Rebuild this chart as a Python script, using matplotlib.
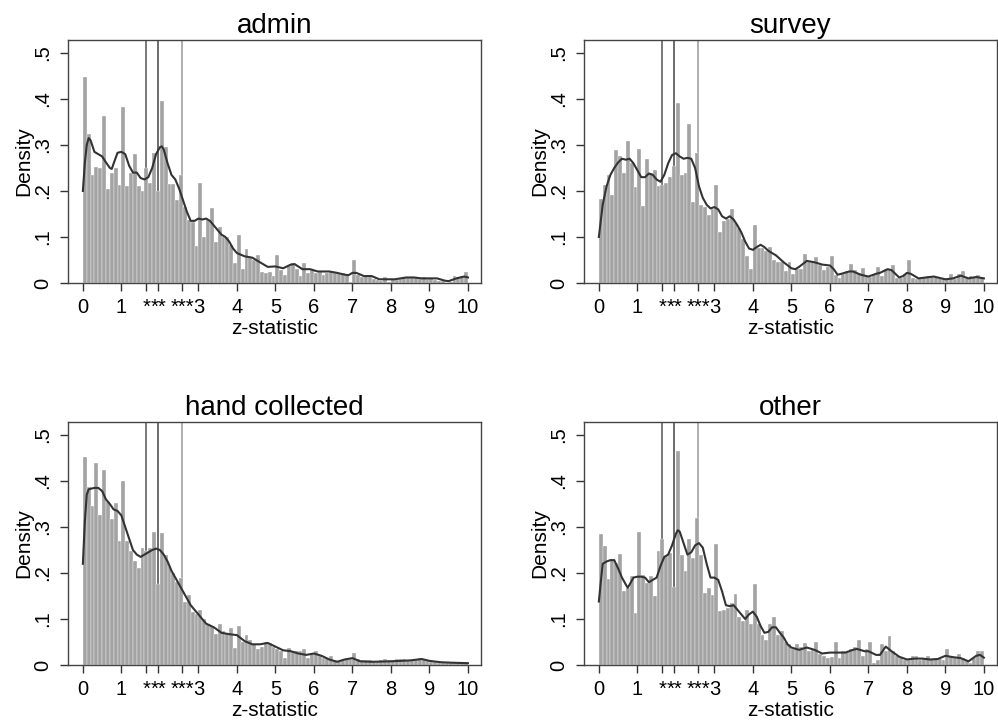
import numpy as np
import matplotlib
matplotlib.use('Agg')
import matplotlib.pyplot as plt

plt.rcParams['font.family'] = ['Liberation Sans', 'DejaVu Sans']

# histogram bins: width 0.1 from 0 to 10
bin_edges = np.round(np.arange(0, 10.01, 0.1), 2)

admin_hist = [
    0.447, 0.323, 0.235, 0.253, 0.25, 0.362, 0.204, 0.238, 0.25, 0.212,
    0.382, 0.21, 0.24, 0.28, 0.21, 0.20, 0.25, 0.217, 0.283, 0.20,
    0.396, 0.296, 0.215, 0.215, 0.18, 0.235, 0.165, 0.137, 0.133, 0.08,
    0.217, 0.10, 0.137, 0.162, 0.088, 0.122, 0.10, 0.10, 0.083, 0.044,
    0.105, 0.03, 0.074, 0.054, 0.05, 0.06, 0.023, 0.021, 0.024, 0.015,
    0.06, 0.028, 0.017, 0.036, 0.043, 0.03, 0.015, 0.044, 0.021, 0.028,
    0.021, 0.023, 0.018, 0.021, 0.024, 0.022, 0.02, 0.021, 0.017, 0.002,
    0.05, 0.017, 0.012, 0.015, 0.014, 0.008, 0.006, 0.005, 0.014, 0.003,
    0.008, 0.007, 0.009, 0.011, 0.011, 0.012, 0.012, 0.009, 0.012, 0.008,
    0.011, 0.007, 0.005, 0.005, 0.001, 0.003, 0.015, 0.012, 0.015, 0.024,
]
survey_hist = [
    0.183, 0.214, 0.234, 0.192, 0.288, 0.277, 0.24, 0.308, 0.26, 0.209,
    0.292, 0.167, 0.27, 0.24, 0.245, 0.21, 0.213, 0.218, 0.23, 0.255,
    0.392, 0.234, 0.24, 0.345, 0.177, 0.283, 0.169, 0.165, 0.148, 0.16,
    0.213, 0.11, 0.135, 0.14, 0.16, 0.13, 0.12, 0.095, 0.058, 0.03,
    0.125, 0.075, 0.075, 0.07, 0.078, 0.05, 0.045, 0.045, 0.025, 0.045,
    0.02, 0.03, 0.03, 0.064, 0.045, 0.045, 0.057, 0.04, 0.028, 0.035,
    0.058, 0.018, 0.01, 0.02, 0.025, 0.042, 0.028, 0.022, 0.032, 0.015,
    0.012, 0.02, 0.035, 0.015, 0.03, 0.03, 0.04, 0.01, 0.01, 0.02,
    0.05, 0.01, 0.008, 0.01, 0.012, 0.015, 0.012, 0.012, 0.01, 0.01,
    0.008, 0.02, 0.008, 0.02, 0.025, 0.01, 0.015, 0.012, 0.018, 0.012,
]
hand_hist = [
    0.453, 0.387, 0.345, 0.438, 0.327, 0.424, 0.355, 0.318, 0.353, 0.27,
    0.40, 0.27, 0.248, 0.226, 0.211, 0.255, 0.248, 0.255, 0.29, 0.175,
    0.288, 0.24, 0.215, 0.20, 0.18, 0.19, 0.138, 0.153, 0.115, 0.11,
    0.12, 0.10, 0.09, 0.085, 0.068, 0.09, 0.075, 0.07, 0.08, 0.036,
    0.084, 0.05, 0.065, 0.055, 0.045, 0.035, 0.04, 0.05, 0.048, 0.04,
    0.035, 0.03, 0.015, 0.037, 0.03, 0.03, 0.03, 0.035, 0.015, 0.025,
    0.03, 0.02, 0.015, 0.015, 0.02, 0.01, 0.008, 0.01, 0.015, 0.012,
    0.027, 0.012, 0.01, 0.01, 0.01, 0.008, 0.008, 0.01, 0.012, 0.01,
    0.01, 0.014, 0.012, 0.012, 0.01, 0.01, 0.012, 0.015, 0.012, 0.008,
    0.006, 0.006, 0.005, 0.005, 0.004, 0.005, 0.005, 0.004, 0.005, 0.005,
]
other_hist = [
    0.284, 0.258, 0.186, 0.229, 0.222, 0.242, 0.16, 0.167, 0.193, 0.113,
    0.289, 0.195, 0.178, 0.193, 0.15, 0.247, 0.273, 0.236, 0.244, 0.17,
    0.466, 0.24, 0.204, 0.273, 0.233, 0.32, 0.24, 0.156, 0.167, 0.153,
    0.264, 0.117, 0.12, 0.125, 0.135, 0.155, 0.105, 0.095, 0.12, 0.09,
    0.175, 0.09, 0.065, 0.055, 0.09, 0.105, 0.065, 0.075, 0.05, 0.045,
    0.035, 0.045, 0.04, 0.048, 0.03, 0.035, 0.05, 0.025, 0.02, 0.015,
    0.018, 0.05, 0.015, 0.03, 0.028, 0.035, 0.04, 0.055, 0.02, 0.035,
    0.05, 0.005, 0.01, 0.045, 0.03, 0.062, 0.03, 0.02, 0.015, 0.01,
    0.01, 0.02, 0.02, 0.01, 0.015, 0.02, 0.012, 0.015, 0.012, 0.01,
    0.035, 0.02, 0.015, 0.025, 0.015, 0.01, 0.005, 0.015, 0.03, 0.03,
]

# kernel density curves
admin_kx = [0, 0.05, 0.1, 0.15, 0.2, 0.3, 0.4, 0.5, 0.6, 0.7, 0.75, 0.8, 0.9, 1.0, 1.1,
            1.2, 1.3, 1.4, 1.5, 1.6, 1.7, 1.8, 1.9, 2.0, 2.05, 2.1, 2.2, 2.3, 2.4, 2.5,
            2.6, 2.7, 2.8, 2.9, 3.0, 3.1, 3.2, 3.3, 3.4, 3.5, 3.6, 3.7, 3.8, 3.9, 4.0,
            4.2, 4.4, 4.6, 4.8, 5.0, 5.2, 5.4, 5.5, 5.7, 5.9, 6.1, 6.4, 6.6, 6.8, 6.9,
            7.0, 7.1, 7.3, 7.5, 7.7, 7.9, 8.1, 8.4, 8.6, 8.8, 9.0, 9.2, 9.4, 9.5, 9.7,
            9.9, 10.0]
admin_ky = [0.20, 0.26, 0.30, 0.315, 0.31, 0.285, 0.28, 0.275, 0.262, 0.25, 0.248, 0.26,
            0.283, 0.285, 0.28, 0.255, 0.24, 0.24, 0.228, 0.225, 0.23, 0.25, 0.28, 0.295,
            0.297, 0.29, 0.26, 0.235, 0.225, 0.205, 0.18, 0.155, 0.135, 0.135, 0.14,
            0.138, 0.14, 0.135, 0.125, 0.115, 0.105, 0.10, 0.09, 0.075, 0.065, 0.058,
            0.055, 0.045, 0.035, 0.036, 0.032, 0.04, 0.041, 0.03, 0.03, 0.025, 0.025,
            0.022, 0.018, 0.017, 0.022, 0.022, 0.015, 0.015, 0.008, 0.008, 0.008, 0.012,
            0.012, 0.01, 0.01, 0.01, 0.005, 0.004, 0.01, 0.014, 0.012]

survey_kx = [0, 0.1, 0.2, 0.3, 0.4, 0.5, 0.6, 0.7, 0.8, 0.9, 1.0, 1.1, 1.2, 1.3, 1.4,
             1.5, 1.6, 1.7, 1.8, 1.9, 2.0, 2.1, 2.2, 2.3, 2.4, 2.5, 2.6, 2.7, 2.8, 2.9,
             3.0, 3.1, 3.2, 3.3, 3.4, 3.5, 3.6, 3.7, 3.8, 3.9, 4.0, 4.1, 4.2, 4.3, 4.4,
             4.6, 4.8, 5.0, 5.1, 5.2, 5.4, 5.6, 5.8, 6.0, 6.1, 6.2, 6.3, 6.5, 6.6, 6.8,
             7.0, 7.2, 7.3, 7.5, 7.6, 7.8, 7.9, 8.0, 8.1, 8.3, 8.5, 8.7, 9.0, 9.2, 9.4,
             9.6, 9.8, 10.0]
survey_ky = [0.10, 0.17, 0.21, 0.235, 0.25, 0.262, 0.27, 0.268, 0.27, 0.26, 0.245, 0.23,
             0.23, 0.238, 0.235, 0.225, 0.22, 0.235, 0.26, 0.278, 0.282, 0.275, 0.27,
             0.272, 0.27, 0.25, 0.21, 0.185, 0.17, 0.162, 0.165, 0.16, 0.145, 0.14,
             0.145, 0.138, 0.125, 0.11, 0.09, 0.075, 0.072, 0.078, 0.083, 0.078, 0.07,
             0.06, 0.045, 0.032, 0.03, 0.035, 0.048, 0.045, 0.04, 0.038, 0.03, 0.018,
             0.02, 0.025, 0.025, 0.018, 0.014, 0.02, 0.022, 0.03, 0.028, 0.012, 0.015,
             0.022, 0.02, 0.01, 0.012, 0.014, 0.008, 0.01, 0.016, 0.01, 0.013, 0.01]

hand_kx = [0, 0.05, 0.1, 0.15, 0.2, 0.3, 0.4, 0.5, 0.6, 0.7, 0.8, 0.9, 1.0, 1.1, 1.2,
           1.3, 1.4, 1.5, 1.6, 1.7, 1.8, 1.9, 2.0, 2.1, 2.2, 2.3, 2.4, 2.5, 2.6, 2.7,
           2.8, 2.9, 3.0, 3.2, 3.4, 3.6, 3.8, 4.0, 4.2, 4.4, 4.6, 4.8, 5.0, 5.2, 5.4,
           5.6, 5.8, 6.0, 6.2, 6.4, 6.6, 6.8, 7.0, 7.2, 7.5, 8.0, 8.5, 8.8, 9.0, 9.3,
           9.6, 10.0]
hand_ky = [0.22, 0.31, 0.37, 0.382, 0.383, 0.385, 0.385, 0.378, 0.36, 0.35, 0.338,
           0.335, 0.325, 0.30, 0.275, 0.25, 0.24, 0.235, 0.24, 0.245, 0.25, 0.253, 0.25,
           0.24, 0.225, 0.205, 0.19, 0.175, 0.16, 0.145, 0.13, 0.12, 0.11, 0.09, 0.082,
           0.07, 0.067, 0.065, 0.052, 0.045, 0.045, 0.048, 0.04, 0.032, 0.03, 0.025,
           0.022, 0.025, 0.02, 0.012, 0.007, 0.012, 0.015, 0.008, 0.007, 0.008, 0.01,
           0.013, 0.009, 0.006, 0.005, 0.004]

other_kx = [0, 0.05, 0.1, 0.2, 0.3, 0.4, 0.5, 0.6, 0.7, 0.75, 0.8, 0.9, 1.0, 1.1, 1.2,
            1.3, 1.4, 1.5, 1.6, 1.7, 1.8, 1.9, 2.0, 2.05, 2.1, 2.2, 2.3, 2.4, 2.5, 2.6,
            2.7, 2.8, 2.9, 3.0, 3.1, 3.2, 3.3, 3.4, 3.5, 3.6, 3.7, 3.8, 3.9, 4.0, 4.1,
            4.2, 4.3, 4.4, 4.5, 4.6, 4.7, 4.8, 4.9, 5.0, 5.2, 5.4, 5.6, 5.8, 6.0, 6.2,
            6.4, 6.6, 6.7, 6.9, 7.0, 7.2, 7.3, 7.45, 7.6, 7.8, 8.0, 8.2, 8.4, 8.6, 8.8,
            9.0, 9.2, 9.4, 9.6, 9.8, 9.9, 10.0]
other_ky = [0.138, 0.18, 0.22, 0.225, 0.228, 0.228, 0.21, 0.19, 0.175, 0.168, 0.175,
            0.19, 0.192, 0.192, 0.19, 0.18, 0.185, 0.19, 0.215, 0.235, 0.24, 0.26, 0.285,
            0.293, 0.29, 0.265, 0.24, 0.245, 0.26, 0.265, 0.255, 0.22, 0.19, 0.19, 0.185,
            0.16, 0.13, 0.128, 0.13, 0.12, 0.11, 0.10, 0.11, 0.116, 0.105, 0.085, 0.07,
            0.072, 0.082, 0.082, 0.07, 0.06, 0.045, 0.038, 0.033, 0.038, 0.033, 0.025,
            0.027, 0.027, 0.027, 0.033, 0.035, 0.03, 0.03, 0.022, 0.022, 0.04, 0.03,
            0.018, 0.012, 0.014, 0.014, 0.012, 0.013, 0.02, 0.017, 0.015, 0.008, 0.02,
            0.022, 0.016]

titles = ['admin', 'survey', 'hand collected', 'other']
hists = [admin_hist, survey_hist, hand_hist, other_hist]
kde_x = [admin_kx, survey_kx, hand_kx, other_kx]
kde_y = [admin_ky, survey_ky, hand_ky, other_ky]

# significance thresholds
sig_x = [1.645, 1.96, 2.576]
sig_colors = ['#555555', '#444444', '#999999']

xticks = [0, 1, 1.645, 1.96, 2.576, 3, 4, 5, 6, 7, 8, 9, 10]
xticklabels = ['0', '1', '*', '**', '***', '3', '4', '5', '6', '7', '8', '9', '10']
yticks = [0, 0.1, 0.2, 0.3, 0.4, 0.5]
yticklabels = ['0', '.1', '.2', '.3', '.4', '.5']

fig = plt.figure(figsize=(9.98, 7.23), dpi=100)
positions = [
    [0.068, 0.6086, 0.414, 0.336],
    [0.585, 0.6086, 0.414, 0.336],
    [0.068, 0.0802, 0.414, 0.336],
    [0.585, 0.0802, 0.414, 0.336],
]

for i in range(4):
    ax = fig.add_axes(positions[i])
    for xv, c in zip(sig_x, sig_colors):
        ax.axvline(xv, color=c, lw=1.1, zorder=1)
    ax.bar(bin_edges[:-1], hists[i], width=0.1, align='edge', color='#a3a3a3',
           edgecolor='white', linewidth=0.25, zorder=2)
    ax.plot(kde_x[i], kde_y[i], color='#333333', lw=1.5, zorder=3)
    ax.set_xlim(-0.39, 10.34)
    ax.set_ylim(0, 0.528)
    ax.set_xticks(xticks)
    ax.set_xticklabels(xticklabels, fontsize=14.5)
    ax.set_yticks(yticks)
    ax.set_yticklabels(yticklabels, fontsize=14.5, rotation=90, va='center')
    ax.tick_params(axis='both', direction='out', length=6, width=1, color='#333333')
    ax.tick_params(axis='x', pad=5)
    ax.tick_params(axis='y', pad=5)
    for sp in ax.spines.values():
        sp.set_color('#444444')
        sp.set_linewidth(1.0)
    ax.set_xlabel('z-statistic', fontsize=15, labelpad=1)
    ax.set_ylabel('Density', fontsize=15, labelpad=0)
    ax.set_title(titles[i], fontsize=20, pad=5)

plt.savefig('out.png', dpi=100)
